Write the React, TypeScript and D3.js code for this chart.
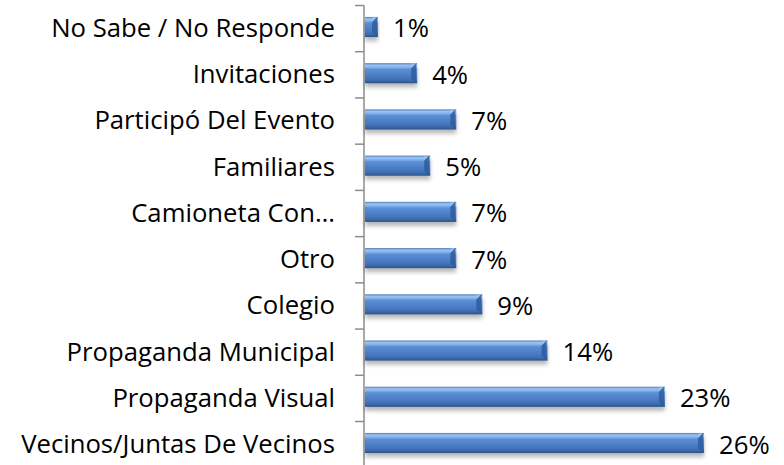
import React from "react";
import * as d3 from "d3";

const categories = [
  "No Sabe / No Responde",
  "Invitaciones",
  "Participó Del Evento",
  "Familiares",
  "Camioneta Con…",
  "Otro",
  "Colegio",
  "Propaganda Municipal",
  "Propaganda Visual",
  "Vecinos/Juntas De Vecinos",
];
const values = [1, 4, 7, 5, 7, 7, 9, 14, 23, 26];

const W = 784;
const H = 465;
const AX = 364;
const FONT = "'Open Sans', sans-serif";
const FS = 25.7;

export default function App() {
  const y = d3.scaleBand<string>().domain(categories).range([5.5, 5.5 + 46.2 * 10]).paddingInner(0.565).paddingOuter(0.28);
  const x = d3.scaleLinear().domain([0, 30]).range([AX, AX + 30 * 13.04]);
  const step = y.step();
  const bh = y.bandwidth();
  const ticks = d3.range(0, categories.length + 1).map((i) => 5.5 + i * step);

  return (
    <svg width={W} height={H} style={{ position: "absolute", left: 0, top: 0, background: "#fff" }}>
      <defs>
        <linearGradient id="barg" x1="0" y1="0" x2="0" y2="1">
          <stop offset="0" stopColor="#4a7cc0" />
          <stop offset="0.1" stopColor="#9cc3f0" />
          <stop offset="0.22" stopColor="#7eaee9" />
          <stop offset="0.3" stopColor="#5b8fd6" />
          <stop offset="0.75" stopColor="#4476be" />
          <stop offset="0.88" stopColor="#3a68a8" />
          <stop offset="1" stopColor="#2b5288" />
        </linearGradient>
        <filter id="sh" x="-10%" y="-50%" width="120%" height="200%">
          <feGaussianBlur stdDeviation="2" />
        </filter>
      </defs>
      <line x1={AX} x2={AX} y1={ticks[0]} y2={H} stroke="#8c8c8c" strokeWidth={1.5} />
      {ticks.map((t, i) => (
        <line key={i} x1={AX - 9} x2={AX} y1={t} y2={t} stroke="#8c8c8c" strokeWidth={1.5} />
      ))}
      {categories.map((c, i) => {
        const y0 = (y(c) as number) - 1.5;
        const x1 = x(values[i]);
        const bw = x1 - AX;
        const bv = Math.min(5, bw / 2);
        const cy = y0 + bh / 2;
        return (
          <g key={c}>
            <rect x={AX + 1} y={y0 + 4} width={bw} height={bh} fill="#000" opacity={0.28} filter="url(#sh)" />
            <rect x={AX + 1} y={y0} width={bw} height={bh} fill="url(#barg)" />
            <polygon
              points={`${x1 - bv},${y0 + bv} ${x1},${y0} ${x1},${y0 + bh} ${x1 - bv},${y0 + bh - bv}`}
              fill="#2f5c9c"
              opacity={0.85}
            />
            <polygon
              points={`${x1 - bv},${y0 + bv} ${x1},${y0} ${x1 - bv},${y0}`}
              fill="#9cc3f0"
              opacity={0.6}
            />
            <text x={AX - 29} y={cy + 10} textAnchor="end" fontFamily={FONT} fontSize={FS} fill="#000">
              {c}
            </text>
            <text x={x1 + 16} y={cy + 10.5} fontFamily={FONT} fontSize={FS} fill="#000">
              {values[i]}%
            </text>
          </g>
        );
      })}
    </svg>
  );
}
